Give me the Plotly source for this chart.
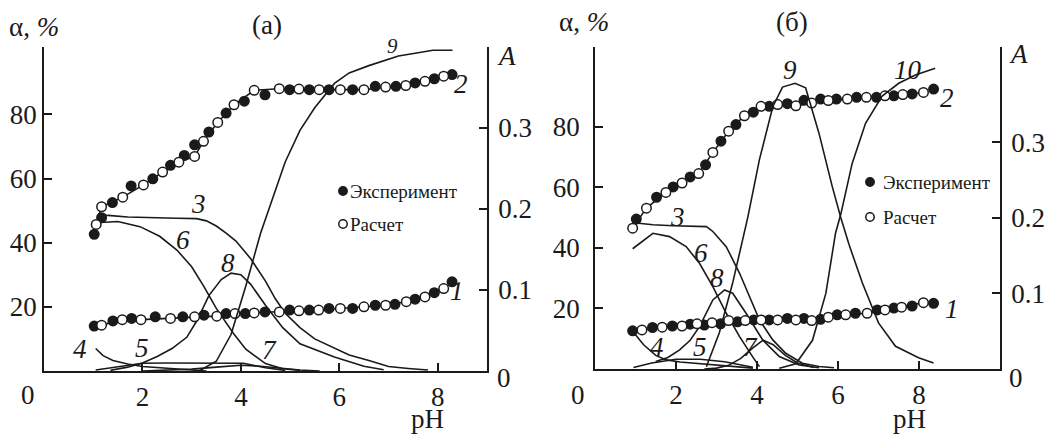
import plotly.graph_objects as go

W, H = 1053, 436

# ---------------- Panel (а) data ----------------
a_ph_exp2 = [1.02, 1.17, 1.39, 1.77, 2.21, 2.57, 2.85, 3.06, 3.35, 3.70, 4.07, 4.49, 4.99, 5.39, 5.79, 6.27, 6.73, 7.15, 7.54, 7.93, 8.29]
a_al_exp2 = [42.6, 47.8, 52.5, 57.7, 59.9, 64.1, 67.2, 70.5, 74.5, 80.4, 84.1, 86.1, 87.7, 87.7, 87.7, 87.7, 88.75, 88.75, 89.8, 91.1, 92.4]
a_ph_calc2 = [1.06, 1.17, 1.60, 2.02, 2.41, 2.74, 3.06, 3.24, 3.53, 3.86, 4.27, 4.78, 5.18, 5.59, 6.02, 6.50, 6.94, 7.35, 7.74, 8.12]
a_al_calc2 = [45.7, 51.2, 54.2, 58.0, 62.0, 65.1, 66.9, 71.6, 77.5, 83.0, 87.5, 88.0, 87.9, 87.7, 87.7, 87.7, 88.5, 89.0, 90.3, 91.9]

a_ph_exp1 = [1.02, 1.40, 1.78, 2.26, 2.82, 3.25, 3.70, 4.09, 4.49, 4.99, 5.39, 5.79, 6.27, 6.73, 7.13, 7.54, 7.93, 8.29]
a_al_exp1 = [14.0, 15.6, 16.4, 16.9, 16.9, 17.4, 17.9, 17.9, 18.4, 19.0, 19.0, 19.5, 19.5, 20.5, 20.8, 22.4, 24.4, 27.8]
a_ph_calc1 = [1.17, 1.59, 1.97, 2.57, 3.06, 3.51, 3.88, 4.27, 4.78, 5.18, 5.58, 6.02, 6.50, 6.94, 7.36, 7.74, 8.12]
a_al_calc1 = [14.3, 16.0, 16.0, 16.4, 16.9, 17.1, 17.9, 18.1, 18.4, 18.75, 19.0, 19.5, 20.0, 20.5, 21.6, 23.1, 25.7]

a_ph3 = [1.1, 1.3, 1.7, 2.2, 2.7, 3.1, 3.3, 3.5, 3.7, 3.9, 4.2, 4.5, 4.7, 4.9, 5.2, 5.5, 5.9, 6.2, 6.6, 7.0, 7.4, 7.8]
a_al3 = [49.0, 48.5, 48.0, 47.7, 47.6, 47.5, 46.8, 45.2, 43.0, 40.5, 35.0, 28.0, 22.5, 18.0, 13.5, 10.0, 7.0, 5.0, 3.3, 1.4, 0.8, 0.3]
a_ph4 = [1.05, 1.2, 1.4, 1.7, 2.0, 2.5, 3.0, 3.3]
a_al4 = [7.0, 4.8, 3.3, 2.2, 1.4, 0.8, 0.3, 0.0]
a_ph5 = [1.05, 1.5, 2.0, 2.5, 3.0, 3.5, 4.05, 4.5, 4.9]
a_al5 = [0.3, 1.4, 2.4, 2.5, 2.5, 2.5, 2.4, 1.0, 0.2]
a_ph6 = [1.04, 1.15, 1.5, 1.95, 2.35, 2.7, 3.0, 3.25, 3.5, 3.85, 4.1, 4.5, 4.85, 5.2]
a_al6 = [45.5, 46.3, 46.6, 45.0, 42.0, 37.7, 32.5, 26.3, 19.5, 11.7, 6.8, 2.3, 0.7, 0.2]
a_ph7 = [2.0, 2.5, 3.0, 3.5, 4.0, 4.4, 4.8, 5.2, 5.6]
a_al7 = [0.0, 0.2, 0.6, 1.2, 1.8, 1.5, 0.8, 0.3, 0.0]
a_ph8 = [1.35, 1.7, 2.0, 2.3, 2.6, 2.9, 3.1, 3.35, 3.6, 3.8, 4.0, 4.2, 4.5, 4.85, 5.2, 5.9, 6.5, 6.9]
a_al8 = [0.2, 1.2, 2.5, 4.5, 7.0, 10.5, 15.5, 23.5, 28.5, 30.5, 30.0, 27.0, 20.5, 13.5, 8.5, 4.4, 1.5, 0.4]
a_ph9 = [3.15, 3.5, 3.8, 4.1, 4.4, 4.6, 4.9, 5.2, 5.5, 5.9, 6.2, 6.6, 6.9, 7.2, 7.6, 7.9, 8.3]
a_A9 = [0.0, 0.012, 0.045, 0.105, 0.17, 0.205, 0.258, 0.297, 0.325, 0.355, 0.368, 0.377, 0.383, 0.389, 0.393, 0.396, 0.396]

# ---------------- Panel (б) data ----------------
b_ph_exp2 = [1.02, 1.52, 1.93, 2.35, 2.73, 3.11, 3.48, 3.91, 4.30, 4.75, 5.16, 5.57, 5.96, 6.46, 6.95, 7.38, 7.83, 8.36]
b_al_exp2 = [49.5, 56.7, 60.1, 63.4, 67.4, 75.2, 80.7, 84.8, 86.7, 87.6, 88.7, 89.1, 89.1, 89.7, 89.7, 90.2, 90.8, 92.4]
b_ph_calc2 = [0.93, 1.27, 1.75, 2.15, 2.56, 2.91, 3.30, 3.69, 4.10, 4.51, 4.96, 5.35, 5.76, 6.23, 6.70, 7.16, 7.60, 8.11]
b_al_calc2 = [46.5, 53.1, 58.3, 61.4, 64.5, 71.5, 78.5, 83.6, 86.7, 87.3, 86.9, 87.8, 88.6, 89.1, 89.7, 90.2, 90.6, 91.3]

b_ph_exp1 = [0.93, 1.42, 1.91, 2.35, 2.70, 3.10, 3.52, 3.92, 4.30, 4.75, 5.16, 5.57, 5.98, 6.43, 6.97, 7.38, 7.83, 8.36]
b_al_exp1 = [12.6, 13.7, 14.2, 14.8, 14.5, 14.9, 15.6, 16.2, 16.2, 16.7, 16.7, 16.4, 17.9, 18.4, 19.5, 20.1, 20.8, 21.7]
b_ph_calc1 = [1.16, 1.66, 2.15, 2.52, 2.89, 3.30, 3.71, 4.10, 4.51, 4.96, 5.35, 5.76, 6.19, 6.72, 7.16, 7.57, 8.11]
b_al_calc1 = [12.9, 13.8, 14.2, 14.9, 15.3, 16.0, 16.0, 16.2, 16.2, 16.2, 16.0, 17.1, 17.9, 18.4, 19.5, 20.4, 21.9]

b_ph3 = [1.02, 1.43, 1.93, 2.5, 2.75, 2.91, 3.24, 3.57, 3.81, 4.06, 4.39, 4.71, 5.12, 5.53, 5.90]
b_al3 = [48.2, 47.6, 47.3, 47.1, 47.0, 45.4, 40.4, 31.6, 23.9, 16.2, 9.6, 5.2, 1.9, 0.8, 0.4]
b_ph4 = [0.94, 1.2, 1.5, 1.76, 2.1, 2.6, 3.1, 3.9]
b_al4 = [12.3, 8.0, 4.5, 3.0, 2.3, 1.8, 1.2, 0.3]
b_ph5 = [0.95, 1.4, 2.0, 2.6, 3.2, 3.6, 3.9]
b_al5 = [0.5, 2.0, 3.2, 3.2, 2.4, 1.4, 0.6]
b_ph6 = [0.93, 1.2, 1.43, 1.84, 2.25, 2.58, 2.91, 3.24, 3.57, 3.89, 4.06]
b_al6 = [39.7, 42.5, 44.8, 43.7, 40.4, 34.9, 27.2, 18.4, 10.7, 4.1, 0.8]
b_ph7 = [2.7, 3.0, 3.3, 3.6, 3.9, 4.15, 4.4, 4.7, 5.0, 5.4]
b_al7 = [0.0, 0.3, 1.2, 3.5, 7.0, 9.5, 8.0, 4.5, 2.0, 0.5]
b_ph8 = [1.5, 1.8, 2.09, 2.35, 2.58, 2.91, 3.2, 3.4, 3.73, 4.14, 4.55, 5.04, 5.53]
b_al8 = [2.5, 3.8, 6.3, 9.5, 14.0, 22.8, 26.1, 25.0, 18.4, 9.6, 4.1, 1.3, 0.4]
b_ph9 = [2.75, 3.07, 3.4, 3.77, 4.06, 4.22, 4.39, 4.63, 4.94, 5.2, 5.53, 5.86, 6.07, 6.27, 6.6, 7.0, 7.42, 7.99, 8.36]
b_A9 = [0.003, 0.048, 0.114, 0.2, 0.277, 0.312, 0.347, 0.373, 0.378, 0.372, 0.312, 0.241, 0.2, 0.165, 0.114, 0.061, 0.03, 0.015, 0.008]
b_ph10 = [4.55, 4.96, 5.37, 5.70, 5.94, 6.07, 6.35, 6.68, 7.09, 7.5, 7.91, 8.4]
b_A10 = [0.001, 0.007, 0.038, 0.1, 0.18, 0.205, 0.272, 0.325, 0.361, 0.378, 0.389, 0.398]

# tick labels
x_ticks = [2, 4, 6, 8]
y_ticks = [20, 40, 60, 80]
A_ticks = [0.1, 0.2, 0.3]

FONT = "Liberation Serif"
INK = "#1a1a1a"
LW = 1.6

fig = go.Figure()


def curve(x, y, xa, ya):
    fig.add_trace(go.Scatter(x=x, y=y, mode="lines", xaxis=xa, yaxis=ya,
                             line=dict(color=INK, width=LW), showlegend=False,
                             hoverinfo="skip"))


def points(x, y, xa, ya, filled):
    fig.add_trace(go.Scatter(
        x=x, y=y, mode="markers", xaxis=xa, yaxis=ya, showlegend=False,
        marker=dict(size=9.5, color=INK if filled else "white",
                    line=dict(color=INK, width=1.5))))


# panel а
for xs, ys in [(a_ph3, a_al3), (a_ph4, a_al4), (a_ph5, a_al5), (a_ph6, a_al6),
               (a_ph7, a_al7), (a_ph8, a_al8)]:
    curve(xs, ys, "x", "y")
curve(a_ph9, a_A9, "x", "y2")
curve(a_ph_calc2, a_al_calc2, "x", "y")
curve(a_ph_calc1, a_al_calc1, "x", "y")
points(a_ph_exp2, a_al_exp2, "x", "y", True)
points(a_ph_calc2, a_al_calc2, "x", "y", False)
points(a_ph_exp1, a_al_exp1, "x", "y", True)
points(a_ph_calc1, a_al_calc1, "x", "y", False)

# panel б
for xs, ys in [(b_ph3, b_al3), (b_ph4, b_al4), (b_ph5, b_al5), (b_ph6, b_al6),
               (b_ph7, b_al7), (b_ph8, b_al8)]:
    curve(xs, ys, "x2", "y3")
curve(b_ph9, b_A9, "x2", "y4")
curve(b_ph10, b_A10, "x2", "y4")
curve(b_ph_calc2, b_al_calc2, "x2", "y3")
curve(b_ph_calc1, b_al_calc1, "x2", "y3")
points(b_ph_exp2, b_al_exp2, "x2", "y3", True)
points(b_ph_calc2, b_al_calc2, "x2", "y3", False)
points(b_ph_exp1, b_al_exp1, "x2", "y3", True)
points(b_ph_calc1, b_al_calc1, "x2", "y3", False)


def px(x):
    return x / W


def py(y):
    return 1 - y / H


tickfont = dict(family=FONT, size=27, color=INK)
common = dict(showline=True, linecolor=INK, linewidth=1.6, ticks="inside",
              ticklen=8, tickwidth=1.5, tickcolor=INK, showgrid=False,
              zeroline=False, tickfont=tickfont)

fig.update_layout(
    width=W, height=H, margin=dict(l=0, r=0, t=0, b=0),
    paper_bgcolor="white", plot_bgcolor="white", showlegend=False,
    font=dict(family=FONT, color=INK),
    xaxis=dict(domain=[px(44), px(487)], range=[0, 9], tickvals=x_ticks,
               anchor="y", ticklabelstandoff=1, **common),
    yaxis=dict(domain=[py(371), py(47)], range=[0, 101], tickvals=y_ticks,
               anchor="x", ticklabelstandoff=0, **common),
    yaxis2=dict(overlaying="y", side="right", anchor="x", range=[0, 0.4],
                tickvals=A_ticks, ticklabelstandoff=4, **common),
    xaxis2=dict(domain=[px(595), px(1000)], range=[0, 10], tickvals=x_ticks,
                anchor="y3", ticklabelstandoff=1, **common),
    yaxis3=dict(domain=[py(369), py(47)], range=[0, 106.3], tickvals=y_ticks,
                anchor="x2", ticklabelstandoff=8, **common),
    yaxis4=dict(overlaying="y3", side="right", anchor="x2", range=[0, 0.426],
                tickvals=A_ticks, ticklabelstandoff=4, **common),
)

annotations = []


def label(text, x, y, size=26, italic=False, xanchor="center", yanchor="middle"):
    t = f"<i>{text}</i>" if italic else text
    annotations.append(dict(text=t, x=px(x), y=py(y), xref="paper", yref="paper",
                            showarrow=False, xanchor=xanchor, yanchor=yanchor,
                            font=dict(family=FONT, size=size, color=INK)))


# axis titles and panel titles
label("α, <i>%</i>", 34, 27, size=27)
label("(а)", 267, 25, size=27)
label("<i>A</i>", 506, 56, size=27)
label("pH", 427, 436, size=27, yanchor="bottom")
label("0", 28, 395, size=27)
label("0", 504, 378, size=27)

label("α, <i>%</i>", 584, 22, size=27)
label("(б)", 792, 22, size=27)
label("<i>A</i>", 1018, 54, size=27)
label("pH", 909, 436, size=27, yanchor="bottom")
label("0", 578, 395, size=27)
label("0", 1016, 378, size=27)

# curve numbers
for t, x, y, s in [("9", 392, 46, 21), ("2", 461, 84, 27), ("3", 198, 204, 27),
                   ("6", 183, 240, 27), ("8", 228, 263, 27), ("1", 457, 291, 27),
                   ("4", 80, 349, 27), ("5", 142, 348, 27), ("7", 269, 350, 27),
                   ("9", 790, 70, 27), ("10", 908, 70, 27), ("2", 947, 98, 27),
                   ("1", 952, 309, 27), ("3", 677, 217, 27), ("6", 701, 253, 27),
                   ("8", 717, 278, 27), ("4", 657, 347, 27), ("5", 700, 347, 27),
                   ("7", 750, 347, 27)]:
    label(t, x, y, size=s, italic=True)

# legends
shapes = []
for (mx, my, filled, text) in [(343, 191, True, "Эксперимент"), (343, 224, False, "Расчет"),
                               (870, 182, True, "Эксперимент"), (870, 217, False, "Расчет")]:
    r = 4.2
    shapes.append(dict(type="circle", xref="paper", yref="paper",
                       x0=px(mx - r), x1=px(mx + r), y0=py(my + r), y1=py(my - r),
                       fillcolor=INK if filled else "white",
                       line=dict(color=INK, width=1.5)))
    gap = 1 if mx < 500 else 7
    label(text, mx + r + gap, my, size=19, xanchor="left")

fig.update_layout(annotations=annotations, shapes=shapes)

fig.write_html("out.html")
